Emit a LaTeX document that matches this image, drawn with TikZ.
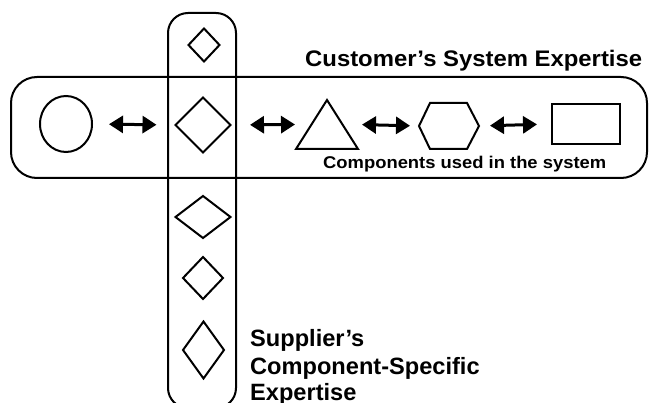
\documentclass[tikz,border=0pt]{standalone}
\usepackage{graphicx}
\usepackage{fontspec}
\setmainfont{Liberation Sans}
\usetikzlibrary{shapes.geometric,arrows.meta}

\tikzset{
  outline/.style={draw=black, line width=2pt},
  group/.style={draw=black, line width=2pt, rounded corners=#1},
  frame/.style={inner sep=0pt, outer sep=0pt, minimum width=#1},
  gem/.style={outline, diamond, inner sep=0pt, outer sep=0pt},
  biarrow/.style={line width=3pt, {Triangle[length=14pt,width=17pt]}-{Triangle[length=14pt,width=17pt]}},
  title/.style={font=\bfseries\fontsize{22.5}{26}\selectfont, inner sep=0pt},
  caption/.style={font=\bfseries\fontsize{17}{20}\selectfont, inner sep=0pt},
  supplier/.style={font=\bfseries\fontsize{23.6}{27}\selectfont, inner sep=0pt, anchor=base west}
}

\begin{document}
\begin{tikzpicture}[x=1pt, y=-1pt]
  \useasboundingbox (0,0) rectangle (650,403);

  % the two groupings: supplier column and customer system row
  \draw[group=20pt] (168,13) rectangle (236,408);
  \draw[group=26pt] (11,77) rectangle (647,178);

  % components in the system row
  \node[outline, ellipse, inner sep=0pt, minimum width=52pt, minimum height=56pt] (circ) at (66,124) {};
  \node[gem, minimum width=55pt, minimum height=55pt] (dmid) at (203,125) {};
  \node[frame=62pt, minimum height=49pt] (tri) at (327,124.5) {};
  \draw[outline, line join=miter] (tri.south west) -- (tri.north) -- (tri.south east) -- cycle;
  \node[frame=60pt, minimum height=46pt] (hex) at (449,126) {};
  \draw[outline] (hex.west) -- ([xshift=11pt]hex.north west) -- ([xshift=-12pt]hex.north east)
    -- (hex.east) -- ([xshift=-12pt]hex.south east) -- ([xshift=11pt]hex.south west) -- cycle;
  \node[outline, rectangle, inner sep=0pt, minimum width=68pt, minimum height=40pt] (box) at (586,124) {};

  % interactions between neighbouring components
  \draw[biarrow, shorten <=16pt, shorten >=19pt] (circ.east) -- (dmid.west);
  \draw[biarrow, shorten <=19.5pt, shorten >=1pt] (dmid.east) -- (tri.west);
  \draw[biarrow, shorten <=4pt, shorten >=9pt] (tri.east) -- (hex.west);
  \draw[biarrow, shorten <=11pt, shorten >=14pt] (hex.east) -- (box.west);

  % other components of the supplier column
  \node[gem, minimum width=31pt, minimum height=33pt] (dtop) at (204,45) {};
  \node[gem, minimum width=55pt, minimum height=42pt] (dwide) at (203,217) {};
  \node[gem, minimum width=40pt, minimum height=42pt] (dsmall) at (203,278) {};
  \node[gem, minimum width=41pt, minimum height=57pt] (dtall) at (203.5,350) {};

  % labels
  \node[title, anchor=base west] (cust) at (305,67)
    {\resizebox{337pt}{\height}{Customer’s System Expertise}};
  \node[caption, anchor=base west] (comp) at (323,169)
    {\resizebox{283pt}{\height}{Components used in the system}};
  \node[supplier] (sup1) at (250,346) {Supplier’s};
  \node[supplier] (sup2) at (250,374) {Component-Specific};
  \node[supplier] (sup3) at (250,400) {Expertise};
\end{tikzpicture}
\end{document}
